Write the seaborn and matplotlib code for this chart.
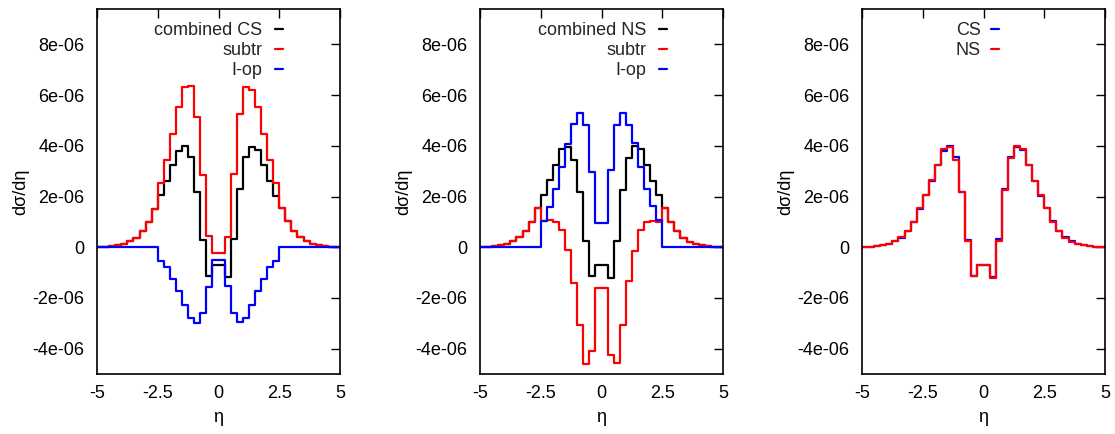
import numpy as np
import pandas as pd
import matplotlib
matplotlib.use("Agg")
import matplotlib.pyplot as plt
import seaborn as sns

# 40 bins of width 0.25 in eta, values in units of 1e-6
eta_edges = np.linspace(-5, 5, 41)
eta_mid = eta_edges[:-1] + 0.125

# panel 1: CS
comb_cs = [0.01, 0.02, 0.04, 0.08, 0.14, 0.24, 0.38, 0.63, 1.01, 1.50,
           2.05, 2.63, 3.26, 3.79, 4.01, 3.57, 2.17, 0.28, -1.12, -0.71,
           -0.71, -1.17, 0.33, 2.28, 3.55, 3.95, 3.82, 3.26, 2.63, 2.01,
           1.53, 1.03, 0.66, 0.39, 0.24, 0.14, 0.08, 0.05, 0.03, 0.01]
subtr_cs = [0.01, 0.02, 0.04, 0.08, 0.14, 0.24, 0.38, 0.63, 1.01, 1.50,
            2.54, 3.43, 4.47, 5.53, 6.33, 6.36, 5.13, 2.87, 0.46, -0.22,
            -0.22, 0.39, 2.91, 5.24, 6.33, 6.22, 5.54, 4.45, 3.43, 2.54,
            1.53, 1.03, 0.66, 0.39, 0.24, 0.14, 0.08, 0.05, 0.03, 0.01]
iop_cs = [0, 0, 0, 0, 0, 0, 0, 0, 0, 0,
          -0.55, -0.79, -1.24, -1.74, -2.29, -2.79, -2.99, -2.59, -1.57, -0.50,
          -0.50, -1.54, -2.59, -2.96, -2.79, -2.29, -1.74, -1.24, -0.79, -0.53,
          0, 0, 0, 0, 0, 0, 0, 0, 0, 0]

# panel 2: NS
comb_ns = [0.01, 0.02, 0.04, 0.08, 0.14, 0.24, 0.39, 0.63, 0.99, 1.55,
           2.08, 2.67, 3.26, 3.89, 3.96, 3.46, 2.18, 0.24, -1.14, -0.68,
           -0.68, -1.21, 0.26, 2.24, 3.53, 3.99, 3.89, 3.26, 2.63, 2.08,
           1.53, 1.00, 0.63, 0.37, 0.22, 0.13, 0.08, 0.04, 0.02, 0.01]
subtr_ns = [0.01, 0.02, 0.04, 0.08, 0.14, 0.24, 0.39, 0.63, 0.99, 1.55,
            1.05, 1.07, 0.99, 0.70, -0.09, -1.41, -3.05, -4.61, -4.11, -1.61,
            -1.61, -4.24, -4.57, -3.05, -1.34, -0.13, 0.70, 1.00, 1.05, 1.00,
            1.53, 1.00, 0.63, 0.37, 0.22, 0.13, 0.08, 0.04, 0.02, 0.01]
iop_ns = [0, 0, 0, 0, 0, 0, 0, 0, 0, 0,
          1.05, 1.58, 2.28, 3.16, 4.08, 4.87, 5.28, 4.82, 2.97, 0.95,
          0.95, 3.03, 4.82, 5.30, 4.82, 4.12, 3.16, 2.28, 1.62, 1.09,
          0, 0, 0, 0, 0, 0, 0, 0, 0, 0]

xticks = [-5, -2.5, 0, 2.5, 5]
xtick_labels = ["-5", "-2.5", "0", "2.5", "5"]
yticks = [-4e-6, -2e-6, 0, 2e-6, 4e-6, 6e-6, 8e-6]
ytick_labels = ["-4e-06", "-2e-06", "0", "2e-06", "4e-06", "6e-06", "8e-06"]

panels = [
    [("combined CS", comb_cs, "black"), ("subtr", subtr_cs, "red"), ("I-op", iop_cs, "blue")],
    [("combined NS", comb_ns, "black"), ("subtr", subtr_ns, "red"), ("I-op", iop_ns, "blue")],
    [("CS", comb_cs, "blue"), ("NS", comb_ns, "red")],
]
legend_x = [0.765, 0.770, 0.564]
legend_pad = [0.7, 0.7, 0.55]
panel_left = [97, 480, 862]

sns.set_theme(style="white")
plt.rcParams["font.family"] = ["Liberation Sans", "DejaVu Sans"]
plt.rcParams["axes.unicode_minus"] = False

W, H = 1115, 434
fig = plt.figure(figsize=(W / 100, H / 100), dpi=100)

for i, series in enumerate(panels):
    ax = fig.add_axes([panel_left[i] / W, 60 / H, 243 / W, 365 / H])
    for name, vals, col in series:
        df = pd.DataFrame({"eta": eta_mid, "w": np.array(vals) * 1e-6})
        sns.histplot(data=df, x="eta", weights="w", bins=list(eta_edges),
                     element="step", fill=False, color=col, linewidth=1.6,
                     label=name, ax=ax)
    ax.set_xlim(-5, 5)
    ax.set_ylim(-5e-6, 9.4e-6)
    ax.set_xticks(xticks)
    ax.set_xticklabels(xtick_labels)
    ax.set_yticks(yticks)
    ax.set_yticklabels(ytick_labels)
    ax.tick_params(direction="in", top=True, right=True, length=6.5, width=1,
                   labelsize=13, color="black", labelcolor="black")
    ax.tick_params(axis="y", pad=9)
    ax.tick_params(axis="x", pad=8)
    for sp in ax.spines.values():
        sp.set_color("black")
        sp.set_linewidth(1.2)
    ax.set_xlabel("η", fontsize=13, color="black")
    ax.set_ylabel("dσ/dη", fontsize=13, color="black")
    ax.xaxis.set_label_coords(0.5, -0.095)
    ax.yaxis.set_label_coords(-0.28, 0.5)
    handles, labels = ax.get_legend_handles_labels()
    ax.legend(handles, labels, loc="upper right", bbox_to_anchor=(legend_x[i], 0.964),
              frameon=False, markerfirst=False, handlelength=0.45,
              handletextpad=legend_pad[i], borderpad=0, borderaxespad=0,
              labelspacing=0.16, fontsize=13)

fig.savefig("out.png", dpi=100)
